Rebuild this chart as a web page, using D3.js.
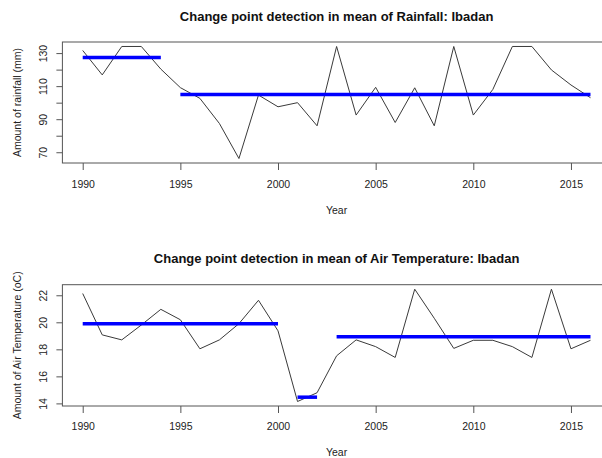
<!DOCTYPE html>
<html>
<head>
<meta charset="utf-8">
<script src="https://cdn.jsdelivr.net/npm/d3@7"></script>
<style>
  html, body { margin: 0; padding: 0; background: #fff; }
  svg text { font-family: "Liberation Sans", Arial, sans-serif; }
</style>
</head>
<body>
<svg id="chart" width="602" height="458"></svg>
<script>
// Annual series for Ibadan, 1990–2016
const years = d3.range(1990, 2017);
const rainfall = [131.6, 116.8, 134, 134, 120.3, 109.1, 102.6, 87.4, 66.2, 104.6,
                  97.5, 100, 86, 134, 92.5, 109.3, 88, 109, 86, 134,
                  92.5, 108, 134, 134, 119.8, 110.7, 103];
const airTemp = [22.13, 19.07, 18.7, 19.8, 20.96, 20.19, 18.04, 18.7, 19.9, 21.63,
                 19.37, 14.14, 14.79, 17.52, 18.7, 18.2, 17.4, 22.45, 20.3, 18.07,
                 18.67, 18.67, 18.2, 17.4, 22.45, 18.04, 18.67];

// Detected segments: first year, last year, segment mean
const rainSegStart = [1990, 1995];
const rainSegEnd   = [1994, 2016];
const rainSegMean  = [127.3, 105.0];
const tempSegStart = [1990, 2001, 2003];
const tempSegEnd   = [2000, 2002, 2016];
const tempSegMean  = [19.9, 14.46, 18.93];

// Axis ticks
const xTicks = [1990, 1995, 2000, 2005, 2010, 2015];
const rainTicks = [70, 80, 90, 100, 110, 120, 130];
const rainTickLabels = [70, 90, 110, 130];
const tempTicks = [14, 16, 18, 20, 22];

const svg = d3.select("#chart");
const fontSize = 10.5;

// R-style axis range: data extent padded by 4% on each side
function padded(ext) {
  const p = (ext[1] - ext[0]) * 0.04;
  return [ext[0] - p, ext[1] + p];
}

function panel(opts) {
  const { top, bottom, left, right, title, ytitle, values, segStart, segEnd, segMean,
          yTicks, yLabelSet, titleY, xLabelY, xTitleY } = opts;
  const g = svg.append("g");

  const x = d3.scaleLinear().domain(padded(d3.extent(years))).range([left, right]);
  const y = d3.scaleLinear().domain(padded(d3.extent(values))).range([bottom, top]);

  // data line
  const line = d3.line().x((d, i) => x(years[i])).y(d => y(d));
  g.append("path").datum(values)
    .attr("d", line)
    .attr("fill", "none")
    .attr("stroke", "#3a3a3a")
    .attr("stroke-width", 1);

  // segment means
  g.selectAll("line.seg").data(segMean).enter().append("line")
    .attr("class", "seg")
    .attr("x1", (d, i) => x(segStart[i]))
    .attr("x2", (d, i) => x(segEnd[i]))
    .attr("y1", d => y(d))
    .attr("y2", d => y(d))
    .attr("stroke", "#0000ff")
    .attr("stroke-width", 3.5);

  // plot frame
  g.append("rect")
    .attr("x", left).attr("y", top)
    .attr("width", right - left).attr("height", bottom - top)
    .attr("fill", "none")
    .attr("stroke", "#555")
    .attr("stroke-width", 1);

  // x axis
  const xa = g.append("g")
    .attr("transform", `translate(0,${bottom})`)
    .call(d3.axisBottom(x).tickValues(xTicks).tickFormat(d3.format("d")).tickSize(7).tickPadding(10));
  xa.select(".domain").remove();
  xa.selectAll("line").attr("stroke", "#555");
  xa.selectAll("text")
    .attr("y", xLabelY - bottom).attr("dy", "0.35em")
    .attr("fill", "#222").style("font-size", fontSize + "px");

  // y axis, labels rotated parallel to the axis
  const ya = g.append("g")
    .attr("transform", `translate(${left},0)`)
    .call(d3.axisLeft(y).tickValues(yTicks)
      .tickFormat(d => yLabelSet.includes(d) ? d : "").tickSize(6));
  ya.select(".domain").remove();
  ya.selectAll("line").attr("stroke", "#555");
  ya.selectAll("text")
    .attr("x", null).attr("dy", null)
    .attr("transform", "translate(-15,0) rotate(-90)")
    .attr("text-anchor", "middle")
    .attr("fill", "#222").style("font-size", fontSize + "px");

  // titles
  g.append("text")
    .attr("x", (left + right) / 2).attr("y", titleY)
    .attr("text-anchor", "middle")
    .attr("fill", "#111")
    .style("font-size", "13px").style("font-weight", "bold")
    .text(title);
  g.append("text")
    .attr("x", (left + right) / 2).attr("y", xTitleY)
    .attr("text-anchor", "middle")
    .attr("dy", "0.35em")
    .attr("fill", "#222").style("font-size", fontSize + "px")
    .text("Year");
  g.append("text")
    .attr("transform", `translate(21,${(top + bottom) / 2}) rotate(-90)`)
    .attr("text-anchor", "middle")
    .attr("fill", "#222").style("font-size", fontSize + "px")
    .text(ytitle);
}

panel({
  top: 42, bottom: 163, left: 62.4, right: 610.8,
  title: "Change point detection in mean of Rainfall: Ibadan",
  ytitle: "Amount of rainfall (mm)",
  values: rainfall, segStart: rainSegStart, segEnd: rainSegEnd, segMean: rainSegMean,
  yTicks: rainTicks, yLabelSet: rainTickLabels,
  titleY: 21, xLabelY: 184, xTitleY: 210
});

panel({
  top: 284.7, bottom: 406, left: 62.4, right: 610.8,
  title: "Change point detection in mean of Air Temperature: Ibadan",
  ytitle: "Amount of Air Temperature (oC)",
  values: airTemp, segStart: tempSegStart, segEnd: tempSegEnd, segMean: tempSegMean,
  yTicks: tempTicks, yLabelSet: tempTicks,
  titleY: 263, xLabelY: 426.5, xTitleY: 452.5
});
</script>
</body>
</html>
